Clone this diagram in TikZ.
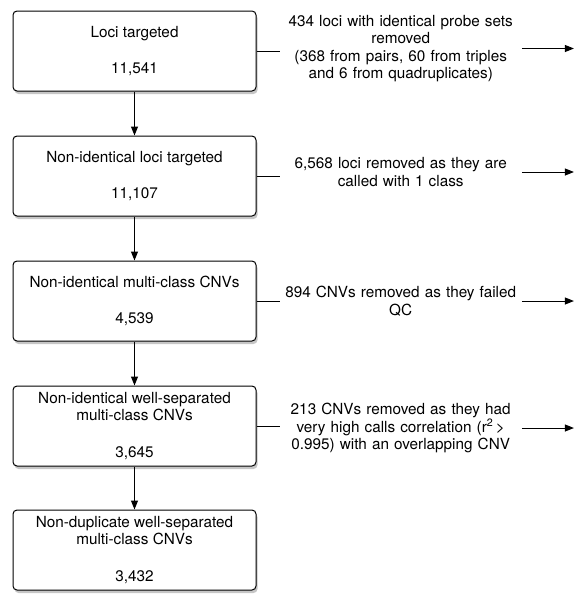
\documentclass[tikz,border=0pt]{standalone}
\usepackage{fontspec}
\setmainfont{TeX Gyre Heros}
\usetikzlibrary{positioning, arrows.meta, shadows}

\begin{document}
\begin{tikzpicture}[
  x=1pt, y=-1pt,
  >={Triangle[length=9pt, width=7pt]},
  box/.style={rectangle, draw, rounded corners=4pt, line width=1pt, fill=white, align=center, minimum width=243pt, minimum height=80pt,
    drop shadow={shadow xshift=1.5pt, shadow yshift=-3pt, opacity=0.45}},
  note/.style={align=center, text width=240pt, inner sep=1pt},
  arrow/.style={->, line width=1pt},
  every node/.style={font=\fontsize{15.3}{17.5}\selectfont}
]
\useasboundingbox (0,0) rectangle (580,600);

%------------------------------------------------
% Main column
%------------------------------------------------
\node[box] (loci) at (134.5,51) {Loci targeted\\[18pt]11,541};
\node[box, below=44pt of loci] (nonid) {Non-identical loci targeted\\[18pt]11,107};
\node[box, below=44pt of nonid] (multi) {Non-identical multi-class CNVs\\[18pt]4,539};
\node[box, below=44pt of multi] (wellsep) {Non-identical well-separated\\multi-class CNVs\\[19pt]3,645};
\node[box, below=43pt of wellsep] (nodup) {Non-duplicate well-separated\\multi-class CNVs\\[19pt]3,432};

\draw[arrow] (loci.south) -- (nonid.north);
\draw[arrow] (nonid.south) -- (multi.north);
\draw[arrow] (multi.south) -- (wellsep.north);
\draw[arrow] (wellsep.south) -- (nodup.north);

%------------------------------------------------
% Removed loci / CNVs
%------------------------------------------------
\node[note, right=23pt of loci, yshift=2.5pt] (rm_ident) {434 loci with identical probe sets\\removed\\(368 from pairs, 60 from triples\\and 6 from quadruplicates)};
\node[note, right=23pt of nonid, yshift=4pt] (rm_oneclass) {6,568 loci removed as they are\\called with 1 class};
\node[note, right=23pt of multi] (rm_qc) {894 CNVs removed as they failed\\QC};
\node[note, right=23pt of wellsep, yshift=-2pt] (rm_corr) {213 CNVs removed as they had\\very high calls correlation (r\textsuperscript{2}\,>\\0.995) with an overlapping CNV};

\coordinate[right=52pt of rm_ident] (out_ident);
\coordinate[right=52pt of rm_oneclass] (out_oneclass);
\coordinate[right=52pt of rm_qc] (out_qc);
\coordinate[right=52pt of rm_corr] (out_corr);

\draw[line width=1pt] (loci.east) -- (loci.east -| rm_ident.west);
\draw[line width=1pt] (nonid.east) -- (nonid.east -| rm_oneclass.west);
\draw[line width=1pt] (multi.east) -- (multi.east -| rm_qc.west);
\draw[line width=1pt] (wellsep.east) -- (wellsep.east -| rm_corr.west);

\draw[arrow] (rm_ident.east) -- (out_ident);
\draw[arrow] (rm_oneclass.east) -- (out_oneclass);
\draw[arrow] (rm_qc.east) -- (out_qc);
\draw[arrow] (rm_corr.east) -- (out_corr);

\end{tikzpicture}
\end{document}
